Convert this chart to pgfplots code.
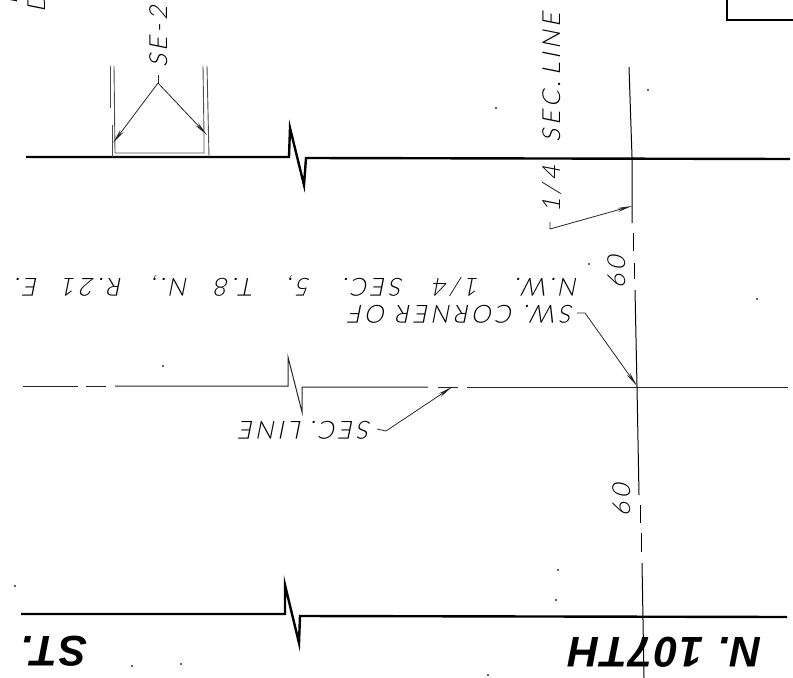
\documentclass[border=0pt]{standalone}
\usepackage{fontspec}
\usepackage{pgfplots}
\pgfplotsset{compat=1.18}
\usetikzlibrary{arrows.meta}
\newfontfamily\cad[FakeSlant=0.2,LetterSpace=14]{Lato Light}
\newfontfamily\road[LetterSpace=4]{Liberation Sans Bold Italic}
\newcommand{\cadtxt}{\cad\fontsize{25}{25}\selectfont}
\newcommand{\roadtxt}{\road\fontsize{43}{43}\selectfont}
\begin{document}
\begin{tikzpicture}
\useasboundingbox (0,0) rectangle (793bp,678bp);
\clip (0,0) rectangle (793bp,678bp);
\begin{axis}[
    at={(0,0)}, anchor=south west,
    scale only axis, width=793bp, height=678bp,
    xmin=0, xmax=793, ymin=0, ymax=678,
    y dir=reverse,
    hide axis,
    clip=false,
    every node/.style={text=black!85, inner sep=0pt},
]
% road edges, thick
\addplot[black, line width=2.4bp] coordinates {(26,157)(289,157)(290,128)(304,185)(306,158)(790,159)};
\addplot[black, line width=2.4bp] coordinates {(21,614)(285,614)(285,585)(299,643)(300,616)(787,617)};
\addplot[black, line width=2.4bp] coordinates {(727,0)(727,20)(793,20)};
% section line with gaps
\addplot[black!85, line width=1bp] coordinates {(23,386)(78,386)};
\addplot[black!85, line width=1bp] coordinates {(86,386)(106,386)};
\addplot[black!85, line width=1bp] coordinates {(115,386)(288,386)(288,357)(302,412)(302,387)(428,387)};
\addplot[black!85, line width=1bp] coordinates {(438,387)(458,387)};
\addplot[black!85, line width=1bp] coordinates {(467,387)(788,387)};
% 1/4 section line
\addplot[black, line width=1bp] coordinates {(629,67)(632,157)(632,223)};
\addplot[black, line width=1bp] coordinates {(633,233)(633,251)};
\addplot[black, line width=1bp] coordinates {(634,263)(634,279)};
\addplot[black, line width=1bp] coordinates {(635,290)(637,387)(639,495)};
\addplot[black, line width=1bp] coordinates {(640,505)(640,523)};
\addplot[black, line width=1bp] coordinates {(641,533)(641,552)};
\addplot[black, line width=1bp] coordinates {(642,563)(644,678)};
% SE-2 structure
\addplot[black!70, line width=.9bp] coordinates {(110,66)(110,108)};
\addplot[black!70, line width=.9bp] coordinates {(112,125)(112,157)};
\addplot[black!70, line width=.9bp] coordinates {(114,66)(115,153)(204,153)(204,135)};
\addplot[black!70, line width=.9bp] coordinates {(203,66)(204,135)};
\addplot[black!70, line width=.9bp] coordinates {(207,66)(209,157)};
% leaders
\addplot[black!85, line width=.8bp, -{Stealth[length=15bp,width=4bp]}] coordinates {(158,83)(113,143)};
\addplot[black!85, line width=.8bp, -{Stealth[length=15bp,width=4bp]}] coordinates {(158,83)(207,135)};
\addplot[black!85, line width=.8bp] coordinates {(158,75)(158,83)};
\addplot[black!85, line width=.8bp, -{Stealth[length=15bp,width=4bp]}] coordinates {(550,222)(550,229)(632,206)};
\addplot[black!85, line width=.8bp, -{Stealth[length=15bp,width=4bp]}] coordinates {(577,313)(585,313)(637,386)};
\addplot[black!85, line width=.8bp, -{Stealth[length=15bp,width=4bp]}] coordinates {(377,429)(386,431)(452,387)};
% specks
\addplot[only marks, mark=*, mark size=.7bp, black] coordinates {(163,366)(496,108)(648,90)(589,264)(757,299)(556,600)(558,570)(15,586)(132,666)(181,664)(488,675)};
% text
\node[rotate=90] at (axis cs:37,3) {\cadtxt D};
\node[rotate=90] at (axis cs:9,-3) {\cadtxt F};
\node[rotate=90] at (axis cs:159,37) {\cadtxt SE-2};
\node[rotate=90] at (axis cs:552,113) {\cadtxt 1/4\hspace{24bp}SEC.\hspace{6bp}LINE};
\node[rotate=90] at (axis cs:617,272) {\cadtxt 60};
\node[rotate=90] at (axis cs:622,500) {\cadtxt 60};
\node[rotate=180] at (axis cs:297,286) {\cadtxt N.W.\hspace{35bp}1/4\hspace{30bp}SEC.\hspace{32bp}5,\hspace{33bp}T.8\hspace{26bp}N.,\hspace{29bp}R.21\hspace{24bp}E.};
\node[rotate=180] at (axis cs:462,314) {\cadtxt SW.\hspace{10bp}CORNER\hspace{10bp}OF};
\node[rotate=180] at (axis cs:306,430) {\cadtxt SEC.\hspace{8bp}LINE};
\node[rotate=180, text=black] at (axis cs:54,651) {\roadtxt ST.};
\node[rotate=180, text=black] at (axis cs:665,652) {\roadtxt N. 107TH};
\end{axis}
\end{tikzpicture}
\end{document}
